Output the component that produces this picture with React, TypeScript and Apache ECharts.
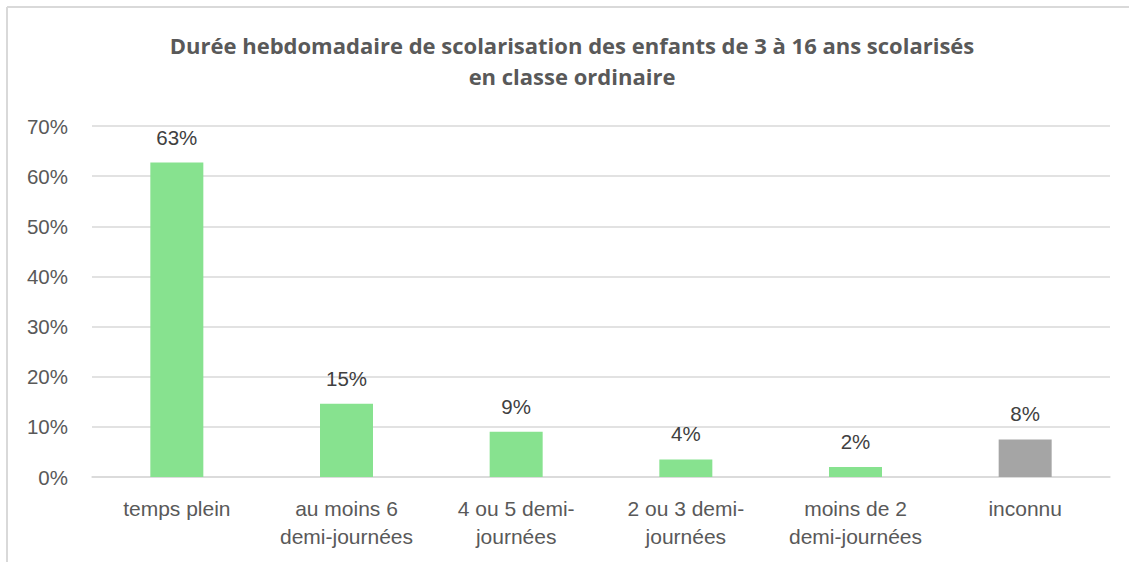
import React, { useEffect, useRef } from "react";
import * as echarts from "echarts";

const categories = [
  "temps plein",
  "au moins 6\ndemi-journées",
  "4 ou 5 demi-\njournées",
  "2 ou 3 demi-\njournées",
  "moins de 2\ndemi-journées",
  "inconnu",
];
const values = [62.7, 14.6, 9.0, 3.5, 2.0, 7.5];
const barColors = ["#87E28F", "#87E28F", "#87E28F", "#87E28F", "#87E28F", "#A5A5A5"];
const titleLines = [
  "Durée hebdomadaire de scolarisation des enfants de 3 à 16 ans scolarisés",
  "en classe ordinaire",
];

export default function App() {
  const ref = useRef<HTMLDivElement>(null);
  useEffect(() => {
    document.body.style.margin = "0";
    const chart = echarts.init(ref.current!, null, { renderer: "svg" });
    const font = "'Liberation Sans', Arial, sans-serif";
    const titleFont = "'Open Sans', sans-serif";
    chart.setOption({
      animation: false,
      backgroundColor: "#ffffff",
      grid: { left: 92, right: 19, top: 126, bottom: 85 },
      graphic: [
        {
          type: "line",
          shape: { x1: 7, y1: 7, x2: 1129, y2: 7 },
          style: { stroke: "#D9D9D9", lineWidth: 2 },
          silent: true,
        },
        {
          type: "line",
          shape: { x1: 7, y1: 7, x2: 7, y2: 562 },
          style: { stroke: "#D9D9D9", lineWidth: 2 },
          silent: true,
        },
        {
          type: "text",
          x: 572,
          y: 45,
          style: {
            text: titleLines[0],
            fontFamily: titleFont,
            fontWeight: "bold",
            fontSize: 22,
            fill: "#595959",
            align: "center",
            verticalAlign: "middle",
          },
        },
        {
          type: "text",
          x: 572,
          y: 76,
          style: {
            text: titleLines[1],
            fontFamily: titleFont,
            fontWeight: "bold",
            fontSize: 22,
            fill: "#595959",
            align: "center",
            verticalAlign: "middle",
          },
        },
      ],
      xAxis: {
        type: "category",
        data: categories,
        axisLine: { show: true, lineStyle: { color: "#D9D9D9", width: 1.5 } },
        axisTick: { show: false },
        axisLabel: {
          color: "#595959",
          fontSize: 21,
          fontFamily: font,
          lineHeight: 28,
          margin: 17,
          interval: 0,
        },
      },
      yAxis: {
        type: "value",
        min: 0,
        max: 70,
        interval: 10,
        axisLine: { show: false },
        axisTick: { show: false },
        splitLine: { lineStyle: { color: "#D9D9D9", width: 1.5 } },
        axisLabel: {
          formatter: "{value}%",
          color: "#595959",
          fontSize: 20.5,
          fontFamily: font,
          margin: 24,
        },
      },
      series: [
        {
          type: "bar",
          barWidth: 53,
          data: values.map((v, i) => ({ value: v, itemStyle: { color: barColors[i] } })),
          label: {
            show: true,
            position: "top",
            distance: 15,
            color: "#404040",
            fontSize: 20.5,
            fontFamily: font,
            formatter: (p: any) => Math.round(p.value) + "%",
          },
        },
      ],
    });
    return () => chart.dispose();
  }, []);
  return <div ref={ref} style={{ width: 1129, height: 562 }} />;
}
